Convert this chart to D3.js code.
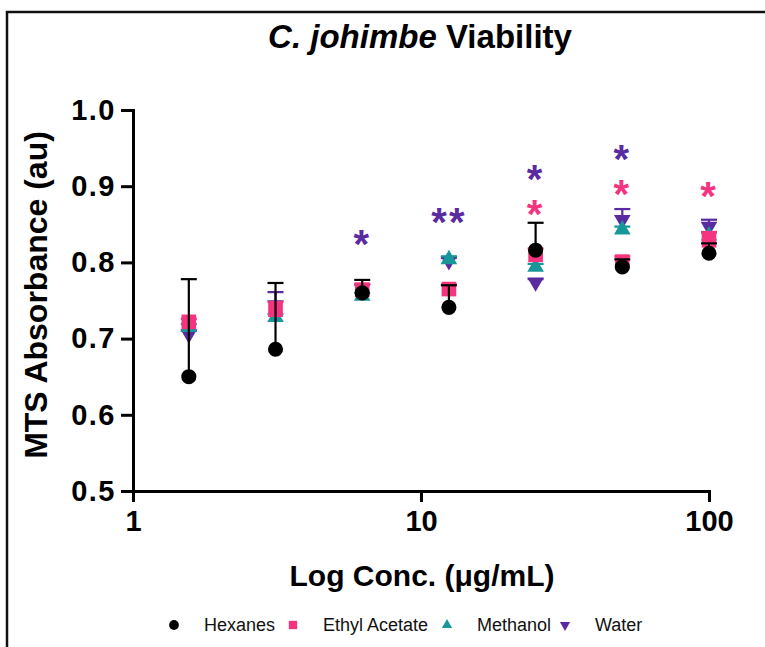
<!DOCTYPE html>
<html>
<head>
<meta charset="utf-8">
<script src="https://cdn.jsdelivr.net/npm/d3@7"></script>
<style>
  body { margin: 0; background: #fff; }
  text { font-family: "Liberation Sans", Arial, sans-serif; }
</style>
</head>
<body>
<svg id="chart" width="765" height="647"></svg>
<script>
// data
const conc = [1.5625, 3.125, 6.25, 12.5, 25, 50, 100];
const hexanes = [0.650, 0.686, 0.760, 0.741, 0.816, 0.794, 0.812];
const hexanesErr = [0.128, 0.087, 0.017, 0.029, 0.036, 0.010, 0.013];
const ethylAcetate = [0.722, 0.738, 0.764, 0.765, 0.810, 0.801, 0.829];
const ethylAcetateErr = [0.004, 0.010, 0.008, 0.006, 0.008, 0.007, 0.011];
const methanol = [0.715, 0.728, 0.756, 0.804, 0.794, 0.843, 0.835];
const methanolErr = [0.004, 0.004, 0.004, 0.004, 0.004, 0.004, 0.004];
const water = [0.706, 0.744, 0.765, 0.802, 0.774, 0.856, 0.847];
const waterErr = [0.004, 0.017, 0.006, 0.004, 0.004, 0.014, 0.009];
const waterSig = ["", "", "*", "**", "*", "*", ""];
const waterSigY = [null, null, 0.829, 0.858, 0.915, 0.941, null];
const eaSig = ["", "", "", "", "*", "*", "*"];
const eaSigY = [null, null, null, null, 0.869, 0.895, 0.892];
const yTicks = [0.5, 0.6, 0.7, 0.8, 0.9, 1.0];
const xTicks = [1, 10, 100];

const series = [
    { name: 'Hexanes', values: hexanes, err: hexanesErr, color: '#000000', shape: d3.symbolCircle, rot: 0, size: 180, lsize: 75 },
    { name: 'Ethyl Acetate', values: ethylAcetate, err: ethylAcetateErr, color: '#f5347f', shape: d3.symbolSquare, rot: 0, size: 215, lsize: 70 },
    { name: 'Methanol', values: methanol, err: methanolErr, color: '#17979a', shape: d3.symbolTriangle, rot: 0, size: 120, lsize: 45 },
    { name: 'Water', values: water, err: waterErr, color: '#5a2aa0', shape: d3.symbolTriangle, rot: 180, size: 120, lsize: 45 }
];

let svg = d3.select('#chart');

// frame (top + left edges only, as cropped in original)
svg.append('path')
    .attr('d', 'M7,647V12H765')
    .attr('fill', 'none')
    .attr('stroke', '#111')
    .attr('stroke-width', 2.5);

let x = d3.scaleLog().domain([1, 100]).range([133, 709]);
let y = d3.scaleLinear().domain([0.5, 1.0]).range([491, 110]);

let yAxis = svg.append('g')
    .attr('transform', 'translate(133,0)')
    .call(d3.axisLeft(y).tickValues(yTicks).tickFormat(d3.format('.1f')).tickSize(12).tickSizeOuter(0).tickPadding(5));

let xAxis = svg.append('g')
    .attr('transform', 'translate(0,491)')
    .call(d3.axisBottom(x).tickValues(xTicks).tickFormat(d3.format('d')).tickSize(11).tickSizeOuter(0).tickPadding(8));

[yAxis, xAxis].forEach(a => {
    a.selectAll('path, line').attr('stroke', '#000').attr('stroke-width', 3);
    a.selectAll('text')
        .attr('fill', '#000')
        .style('font-size', '29px')
        .style('font-weight', 'bold');
});
yAxis.selectAll('text').style('letter-spacing', '1.5px');
yAxis.select('.domain').attr('stroke-linecap', 'square');
xAxis.select('.domain').attr('stroke-linecap', 'square');

// title
let title = svg.append('text')
    .attr('x', 420).attr('y', 48)
    .attr('text-anchor', 'middle')
    .style('font-size', '33px')
    .style('font-weight', 'bold');
title.append('tspan').style('font-style', 'italic').text('C. johimbe');
title.append('tspan').text(' Viability');

// axis titles
svg.append('text')
    .attr('transform', 'translate(47,295) rotate(-90)')
    .attr('text-anchor', 'middle')
    .style('font-size', '32px')
    .style('font-weight', 'bold')
    .text('MTS Absorbance (au)');

svg.append('text')
    .attr('x', 422).attr('y', 586)
    .attr('text-anchor', 'middle')
    .style('font-size', '30px')
    .style('font-weight', 'bold')
    .text('Log Conc. (\u03bcg/mL)');

// points: last series drawn first so hexanes sits on top
let plot = svg.append('g');
series.slice().reverse().forEach(s => {
    let g = plot.append('g');
    let pts = conc.map((c, i) => ({ c, v: s.values[i], e: s.err[i] }));

    g.selectAll('path.pt')
        .data(pts)
        .enter().append('path')
        .attr('class', 'pt')
        .attr('d', d3.symbol().type(s.shape).size(s.size))
        .attr('transform', d => `translate(${x(d.c)},${y(d.v)}) rotate(${s.rot})`)
        .attr('fill', s.color);

    let eb = g.selectAll('g.eb')
        .data(pts)
        .enter().append('g')
        .attr('class', 'eb')
        .attr('stroke', s.color)
        .attr('stroke-width', 2.2);
    eb.append('line')
        .attr('x1', d => x(d.c)).attr('x2', d => x(d.c))
        .attr('y1', d => y(d.v)).attr('y2', d => y(d.v + d.e));
    eb.append('line')
        .attr('x1', d => x(d.c) - 8).attr('x2', d => x(d.c) + 8)
        .attr('y1', d => y(d.v + d.e)).attr('y2', d => y(d.v + d.e));
});

// significance stars
let stars = [
    { labels: eaSig, ys: eaSigY, color: '#f5347f' },
    { labels: waterSig, ys: waterSigY, color: '#5a2aa0' }
];
stars.forEach(st => {
    svg.append('g').selectAll('text')
        .data(conc.map((c, i) => ({ c, t: st.labels[i], v: st.ys[i] })).filter(d => d.t))
        .enter().append('text')
        .attr('x', d => x(d.c))
        .attr('y', d => y(d.v) + 18)
        .attr('text-anchor', 'middle')
        .attr('fill', st.color)
        .style('font-size', '40px')
        .style('font-weight', 'bold')
        .style('letter-spacing', '2px')
        .text(d => d.t);
});

// legend
let legendX = [174, 293, 447, 565];
let legend = svg.append('g');
series.forEach((s, i) => {
    legend.append('path')
        .attr('d', d3.symbol().type(s.shape).size(s.lsize))
        .attr('transform', `translate(${legendX[i]},625) rotate(${s.rot})`)
        .attr('fill', s.color);
    legend.append('text')
        .attr('x', legendX[i] + 30)
        .attr('y', 631)
        .style('font-size', '18px')
        .attr('fill', '#111')
        .text(s.name);
});
</script>
</body>
</html>
